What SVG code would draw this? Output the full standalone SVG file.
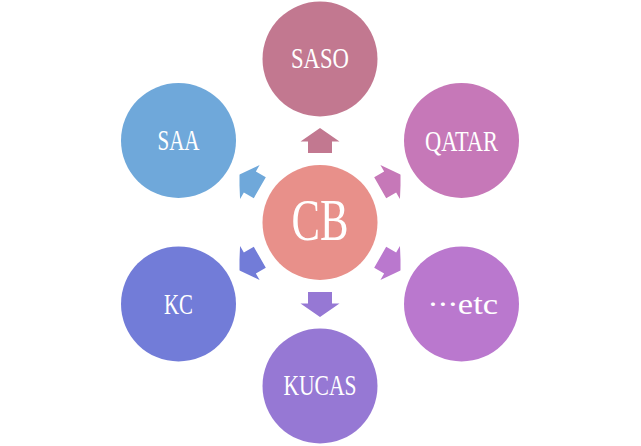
<svg xmlns="http://www.w3.org/2000/svg" width="641" height="446" viewBox="0 0 641 446">
<style>
.lbl{font-family:"Liberation Serif","Times New Roman",serif;fill:#ffffff;text-anchor:middle;font-size:30px}
.big{font-size:60px}
.cjk{font-family:"Noto Sans CJK SC","Liberation Serif",sans-serif;font-size:26px}
</style>
<defs>
<path id="arr" d="M0,-94.5 L19.5,-81 L12,-81 L12,-69.5 L-12,-69.5 L-12,-81 L-19.5,-81 Z"/>
<clipPath id="clip"><rect x="239.5" y="0" width="161" height="446"/></clipPath>
</defs>
<rect width="641" height="446" fill="#ffffff"/>
<g id="connectors" clip-path="url(#clip)">
<use href="#arr" transform="translate(320,222.5) rotate(0)" fill="#C27890"/>
<use href="#arr" transform="translate(320,222.5) rotate(60)" fill="#C678B8"/>
<use href="#arr" transform="translate(320,222.5) rotate(120)" fill="#BA78CE"/>
<use href="#arr" transform="translate(320,222.5) rotate(180)" fill="#9678D4"/>
<use href="#arr" transform="translate(320,222.5) rotate(240)" fill="#727CD8"/>
<use href="#arr" transform="translate(320,222.5) rotate(300)" fill="#6FA8DA"/>
</g>
<g id="node-cb">
<circle cx="320" cy="222.5" r="57.5" fill="#E8908A"/>
<text class="lbl big" x="320" y="240" textLength="57" lengthAdjust="spacingAndGlyphs">CB</text>
</g>
<g id="node-saso">
<circle cx="320" cy="59" r="57.5" fill="#C27890"/>
<text class="lbl" x="320" y="68" textLength="58" lengthAdjust="spacingAndGlyphs">SASO</text>
</g>
<g id="node-qatar">
<circle cx="461.5" cy="140.5" r="57.5" fill="#C678B8"/>
<text class="lbl" x="461.5" y="150.5" textLength="73" lengthAdjust="spacingAndGlyphs">QATAR</text>
</g>
<g id="node-etc">
<circle cx="461.5" cy="304" r="57.5" fill="#BA78CE"/>
<text class="lbl" x="463" y="313.5" xml:lang="zh-CN" textLength="70" lengthAdjust="spacingAndGlyphs"><tspan class="cjk">…</tspan>etc</text>
</g>
<g id="node-kucas">
<circle cx="320" cy="386" r="57.5" fill="#9678D4"/>
<text class="lbl" x="320" y="395" textLength="73" lengthAdjust="spacingAndGlyphs">KUCAS</text>
</g>
<g id="node-kc">
<circle cx="178.5" cy="304" r="57.5" fill="#727CD8"/>
<text class="lbl" x="178.5" y="314" textLength="29" lengthAdjust="spacingAndGlyphs">KC</text>
</g>
<g id="node-saa">
<circle cx="178.5" cy="140.5" r="57.5" fill="#6FA8DA"/>
<text class="lbl" x="178.5" y="150" textLength="42" lengthAdjust="spacingAndGlyphs">SAA</text>
</g>
</svg>
